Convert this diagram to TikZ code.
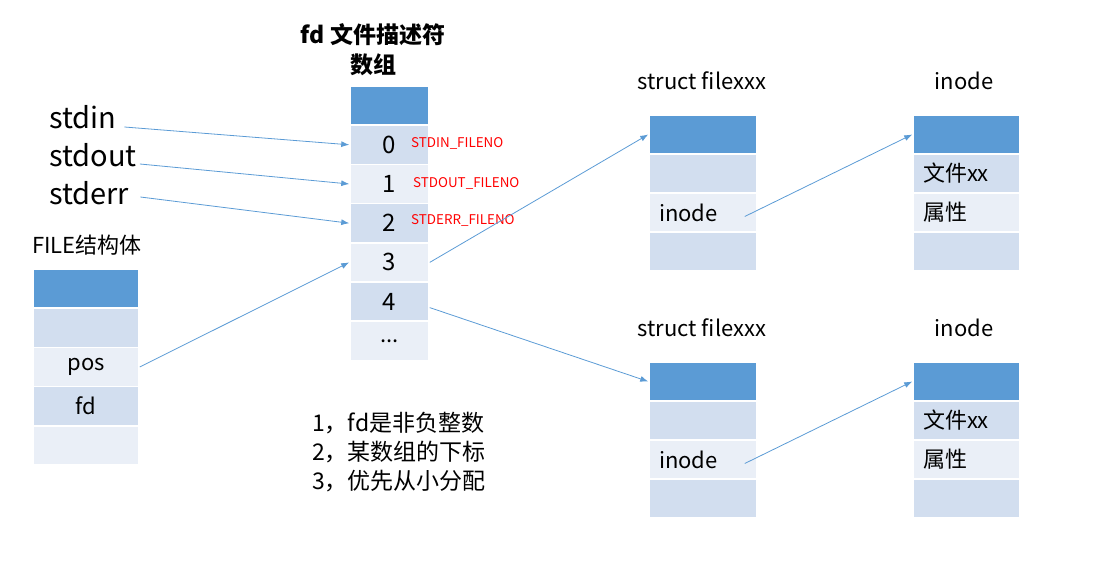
\documentclass[tikz,border=0pt]{standalone}
\usepackage{fontspec}
\setmainfont{Noto Sans CJK SC}
\usepackage{xcolor}
\usetikzlibrary{arrows.meta}

\definecolor{hdr}{HTML}{5B9BD5}
\definecolor{dk}{HTML}{D2DEEF}
\definecolor{lt}{HTML}{EAEFF7}

\begin{document}
\begin{tikzpicture}[x=1pt,y=-1pt,
  cell/.style={rectangle, draw=white, line width=1.5pt, inner sep=0pt,
    minimum height=39pt, font=\fontsize{22}{26}\selectfont},
  leftcell/.style={cell, inner xsep=10pt, align=left},
  title/.style={font=\fontsize{22}{26}\selectfont},
  stream/.style={anchor=west, inner sep=0pt, font=\fontsize{29}{32}\selectfont},
  fdname/.style={anchor=west, inner sep=0pt, text=red, font=\fontsize{13.4}{15}\selectfont},
  arr/.style={draw=hdr, line width=0.8pt, -{Latex[length=8pt,width=6pt]}}]
  % page size of the reference
  \useasboundingbox (0,0) rectangle (1098,569);

  % fd array
  \node[font=\bfseries\fontsize{23}{30}\selectfont, align=center] (fdtitle) at (373,50) {fd 文件描述符\\数组};
  \node[cell, fill=hdr, minimum width=79pt] (rh) at (389.5,105.6) {};
  \foreach \i/\c in {0/dk,1/lt,2/dk,3/lt,4/dk}
    \node[cell, fill=\c, minimum width=79pt, font=\fontsize{24}{28}\selectfont] (r\i) at (389.5,{144.8+39.2*\i}) {\i};
  \node[cell, fill=lt, minimum width=79pt] (r5) at (389.5,340.8) {...};

  \node[fdname] (n0) at (411,143) {STDIN\_FILENO};
  \node[fdname] (n1) at (413,183) {STDOUT\_FILENO};
  \node[fdname] (n2) at (411,220) {STDERR\_FILENO};

  % standard streams
  \node[stream] (stdin) at (49,117) {stdin};
  \node[stream] (stdout) at (49,155) {stdout};
  \node[stream] (stderr) at (49,193) {stderr};

  % FILE struct
  \node[title, anchor=west, inner sep=0pt] (filetitle) at (32,245) {FILE结构体};
  \node[cell, fill=hdr, minimum width=106pt] (fh) at (86,288.6) {};
  \node[cell, fill=dk, minimum width=106pt] (f1) at (86,327.8) {};
  \node[cell, fill=lt, minimum width=106pt] (fpos) at (86,367) {pos};
  \node[cell, fill=dk, minimum width=106pt] (ffd) at (86,406.2) {fd};
  \node[cell, fill=lt, minimum width=106pt] (f4) at (86,445.4) {};

  % struct filexxx, upper
  \node[title] (st1) at (702,81) {struct filexxx};
  \node[cell, fill=hdr, minimum width=108pt] (sh1) at (703,134.5) {};
  \node[cell, fill=dk, minimum width=108pt] (sa1) at (703,173.5) {};
  \node[leftcell, fill=lt, text width=88pt] (si1) at (703,212.5) {inode};
  \node[cell, fill=dk, minimum width=108pt] (sb1) at (703,251.5) {};

  % inode, upper
  \node[title] (it1) at (964,81) {inode};
  \node[cell, fill=hdr, minimum width=107pt] (ih1) at (966.5,134.5) {};
  \node[leftcell, fill=dk, text width=87pt] (ia1) at (966.5,173.5) {文件xx};
  \node[leftcell, fill=lt, text width=87pt] (ib1) at (966.5,212.5) {属性};
  \node[cell, fill=dk, minimum width=107pt] (ic1) at (966.5,251.5) {};

  % struct filexxx, lower
  \node[title] (st2) at (702,328) {struct filexxx};
  \node[cell, fill=hdr, minimum width=108pt] (sh2) at (703,381.5) {};
  \node[cell, fill=dk, minimum width=108pt] (sa2) at (703,420.5) {};
  \node[leftcell, fill=lt, text width=88pt] (si2) at (703,459.5) {inode};
  \node[cell, fill=dk, minimum width=108pt] (sb2) at (703,498.5) {};

  % inode, lower
  \node[title] (it2) at (964,328) {inode};
  \node[cell, fill=hdr, minimum width=107pt] (ih2) at (966.5,381.5) {};
  \node[leftcell, fill=dk, text width=87pt] (ia2) at (966.5,420.5) {文件xx};
  \node[leftcell, fill=lt, text width=87pt] (ib2) at (966.5,459.5) {属性};
  \node[cell, fill=dk, minimum width=107pt] (ic2) at (966.5,498.5) {};

  % notes
  \node[anchor=west, inner sep=0pt, align=left, font=\fontsize{23}{29}\selectfont] (notes) at (312,452)
    {1，fd是非负整数\\2，某数组的下标\\3，优先从小分配};

  % pointers
  \draw[arr] ([xshift=8pt,yshift=-10pt]stdin.east) -- (r0.west);
  \draw[arr] ([xshift=3pt,yshift=-9pt]stdout.east) -- (r1.west);
  \draw[arr] ([xshift=11pt,yshift=-4pt]stderr.east) -- (r2.west);
  \draw[arr] (fpos.east) -- (r3.west);
  \draw[arr] (r3.east) -- (sh1.west);
  \draw[arr] ([yshift=-6pt]r4.east) -- (sh2.west);
  \draw[arr] ([xshift=-13pt,yshift=-4pt]si1.east) -- (ih1.west);
  \draw[arr] ([xshift=-13pt,yshift=-4pt]si2.east) -- (ih2.west);
\end{tikzpicture}
\end{document}
